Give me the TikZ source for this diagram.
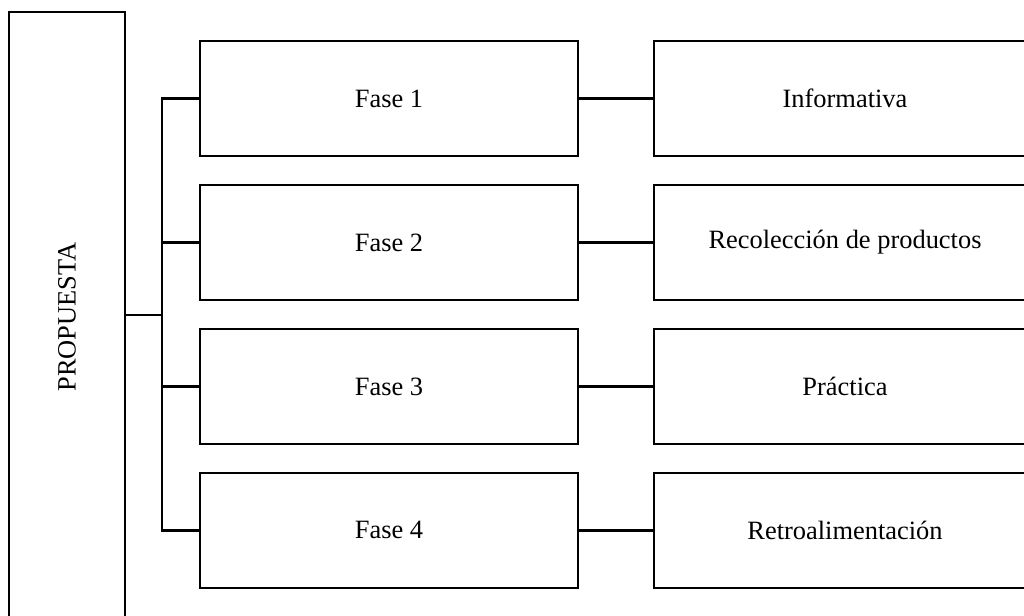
\documentclass[tikz,border=0pt]{standalone}
\usepackage{fontspec}
\setmainfont{Liberation Serif}
\usetikzlibrary{positioning}
\tikzset{
    every picture/.style={line width=2pt},
    % boxes of the scheme
    mainbox/.style={rectangle,draw=black,fill=white,line width=2pt,minimum width=2.9cm,minimum height=15.25cm,inner sep=0pt},
    fasebox/.style={rectangle,draw=black,fill=white,line width=2pt,minimum width=9.45cm,minimum height=2.875cm,font=\fontsize{18.8}{22}\selectfont},
    descbox/.style={rectangle,draw=black,fill=white,line width=2pt,minimum width=9.55cm,minimum height=2.875cm,font=\fontsize{18.8}{22}\selectfont},
    link/.style={draw=black,line width=2pt}
}
\begin{document}
\begin{tikzpicture}
    \useasboundingbox (0,0) rectangle (25.6,-15.375);

    % Left block
    \node[mainbox] (prop) at (1.675,-7.925) {\rotatebox{90}{\fontsize{18.8}{22}\selectfont PROPUESTA}};

    % Phases
    \node[fasebox] (f1) at (9.725,-2.4625) {Fase 1};
    \node[fasebox,below=0.654cm of f1] (f2) {Fase 2};
    \node[fasebox,below=0.654cm of f2] (f3) {Fase 3};
    \node[fasebox,below=0.654cm of f3] (f4) {Fase 4};

    % Descriptions
    \node[descbox] (d1) at (21.125,-2.4625) {Informativa};
    \node[descbox] (d2) at (d1 |- f2) {Recolección de productos};
    \node[descbox] (d3) at (d1 |- f3) {Práctica};
    \node[descbox] (d4) at (d1 |- f4) {Retroalimentación};

    % Bus
    \coordinate (bus) at (4.05,-7.875);
    \draw[link] (prop.east |- bus) -- (bus);
    \draw[link] (f1.west) -- (f1.west -| bus) -- (f4.west -| bus) -- (f4.west);
    \draw[link] (f2.west) -- (f2.west -| bus);
    \draw[link] (f3.west) -- (f3.west -| bus);

    % Phase to description
    \draw[link] (f1) -- (d1);
    \draw[link] (f2) -- (d2);
    \draw[link] (f3) -- (d3);
    \draw[link] (f4) -- (d4);
\end{tikzpicture}
\end{document}
